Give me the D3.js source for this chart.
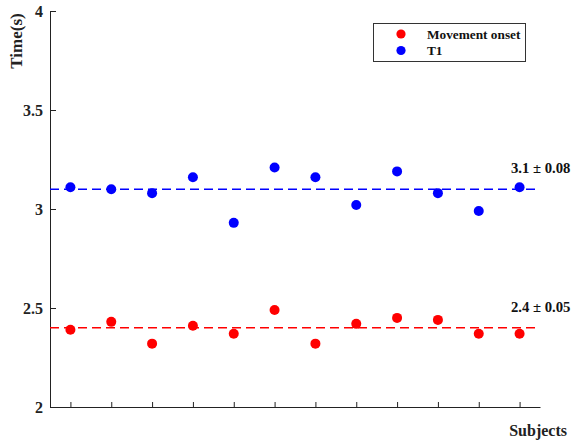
<!DOCTYPE html>
<html>
<head>
<meta charset="utf-8">
<script src="https://cdn.jsdelivr.net/npm/d3@7"></script>
<style>
  body { margin: 0; background: #fff; }
  text { font-family: "Liberation Serif", "Times New Roman", serif; font-weight: bold; }
</style>
</head>
<body>
<div id="chart"></div>
<script>
// Data
var subjects = [1, 2, 3, 4, 5, 6, 7, 8, 9, 10, 11, 12];
var movementOnset = [2.39, 2.43, 2.32, 2.41, 2.37, 2.49, 2.32, 2.42, 2.45, 2.44, 2.37, 2.37];
var t1 = [3.11, 3.10, 3.08, 3.16, 2.93, 3.21, 3.16, 3.02, 3.19, 3.08, 2.99, 3.11];
var seriesNames = ['Movement onset', 'T1'];
var seriesColors = ['#ff0000', '#0000ff'];
var means = [2.4, 3.1];
var meanLabels = ['2.4 \u00b1 0.05', '3.1 \u00b1 0.08'];
var yTicks = [2, 2.5, 3, 3.5, 4];

var width = 574, height = 443;
var margin = { top: 11, right: 34, bottom: 35, left: 50 };

var svg = d3.select('#chart').append('svg')
  .attr('width', width)
  .attr('height', height);

var x = d3.scaleLinear().domain([0.5, 12.5]).range([margin.left, width - margin.right]);
var y = d3.scaleLinear().domain([2, 4]).range([height - margin.bottom - 1, margin.top]);

/* axes */
var yAxis = svg.append('g')
  .attr('transform', 'translate(' + margin.left + ',0)')
  .call(d3.axisLeft(y).tickValues(yTicks).tickSizeInner(-6).tickSizeOuter(0).tickPadding(7)
    .tickFormat(function(d) { return String(d); }));
yAxis.selectAll('text').style('font-size', '16px').attr('fill', '#222');

var xAxis = svg.append('g')
  .attr('transform', 'translate(0,' + y(2) + ')')
  .call(d3.axisBottom(x).tickValues(subjects).tickSizeInner(-5).tickSizeOuter(0).tickFormat(''));

svg.selectAll('.domain, .tick line').attr('stroke', '#222');

svg.append('text')
  .text('Time(s)')
  .attr('transform', 'translate(22,41) rotate(-90)')
  .style('text-anchor', 'middle')
  .style('font-size', '17px')
  .attr('fill', '#222');

svg.append('text')
  .text('Subjects')
  .attr('x', 567)
  .attr('y', 436)
  .style('text-anchor', 'end')
  .style('font-size', '16px')
  .attr('fill', '#222');

/* mean lines */
var allSeries = [movementOnset, t1];
for (var s = 0; s < allSeries.length; s++) {
  svg.append('line')
    .attr('x1', x(0.5))
    .attr('x2', x(12.45))
    .attr('y1', y(means[s]))
    .attr('y2', y(means[s]))
    .attr('stroke', seriesColors[s])
    .attr('stroke-width', 1.5)
    .attr('stroke-dasharray', '9,5');

  svg.append('text')
    .text(meanLabels[s])
    .attr('x', 511)
    .attr('y', y(means[s]) - 16)
    .style('font-size', '14.7px')
    .attr('fill', '#111');
}

/* points */
for (var s = 0; s < allSeries.length; s++) {
  svg.append('g').selectAll('circle')
    .data(allSeries[s])
    .enter().append('circle')
    .attr('cx', function(d, i) { return x(subjects[i]); })
    .attr('cy', function(d) { return y(d); })
    .attr('r', 5)
    .attr('fill', seriesColors[s]);
}

/* legend */
var legend = svg.append('g');
legend.append('rect')
  .attr('x', 373.5)
  .attr('y', 23.5)
  .attr('width', 152)
  .attr('height', 38)
  .attr('fill', '#fff')
  .attr('stroke', '#333')
  .attr('stroke-width', 1);
for (var s = 0; s < seriesNames.length; s++) {
  legend.append('circle')
    .attr('cx', 401)
    .attr('cy', 34 + s * 16.5)
    .attr('r', 4.6)
    .attr('fill', seriesColors[s]);
  legend.append('text')
    .text(seriesNames[s])
    .attr('x', 427)
    .attr('y', 34 + s * 16.5)
    .attr('dy', '0.35em')
    .style('font-size', '13.3px')
    .attr('fill', '#111');
}
</script>
</body>
</html>
